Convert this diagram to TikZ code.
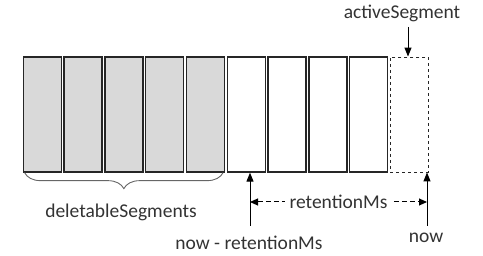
\documentclass[tikz,border=0pt]{standalone}
\usepackage{fontspec}
\setmainfont{Carlito}
\usepackage{tikz}
\usetikzlibrary{arrows.meta, positioning, calc, decorations.pathreplacing}

\begin{document}
\begin{tikzpicture}[
  font=\fontsize{19.5}{22}\selectfont,
  x=1pt,
  y=-1pt,
  segment/.style={rectangle, draw=black!85, line width=1.3pt, minimum width=38pt, minimum height=115pt, inner sep=0pt},
  oldseg/.style={segment, fill=black!15},
  activeseg/.style={segment, dashed, line width=0.9pt},
  pointer/.style={-{Triangle[length=9pt, width=7pt]}, line width=1pt},
  span/.style={{Triangle[length=8pt, width=7pt]}-{Triangle[length=8pt, width=7pt]}, line width=1pt, dash pattern=on 5pt off 3pt},
  txt/.style={text=black!80, inner sep=1pt}
]
\useasboundingbox (0,0) rectangle (483,256);

% Log segments
\foreach \i in {1,...,5}
  \node[oldseg] (seg\i) at ({42.25+40.8*(\i-1)},114.5) {};
\foreach \i in {6,...,9}
  \node[segment] (seg\i) at ({42.25+40.8*(\i-1)},114.5) {};
\node[activeseg] (seg10) at ({42.25+40.8*9},114.5) {};

% Segments that may be removed
\draw[black!60, line width=0.9pt, decorate, decoration={brace, mirror, amplitude=16pt}]
  ([xshift=2pt]seg1.south west) -- ([xshift=-2pt]seg5.south east);
\node[txt] (dlabel) at (121,212) {deletableSegments};

% Active segment pointer
\node[txt] (activelabel) at (402,13) {activeSegment};
\coordinate (activept) at (408,27);
\draw[pointer] (activept) -- (activept |- seg10.north);

% Time markers
\coordinate (cutoff) at (250,226);
\coordinate (nowpt) at (427,226);
\draw[pointer] (cutoff) -- (cutoff |- seg6.south);
\draw[pointer] (nowpt) -- (nowpt |- seg10.south);
\node[txt] (cutlabel) at (249,243) {now - retentionMs};
\node[txt] (nowlabel) at (426,238) {now};

% Retention window
\coordinate (spanL) at (250,202);
\coordinate (spanR) at (427,202);
\draw[span] (spanL) -- node[txt, fill=white, inner xsep=5pt] {retentionMs} (spanR);

\end{tikzpicture}
\end{document}
